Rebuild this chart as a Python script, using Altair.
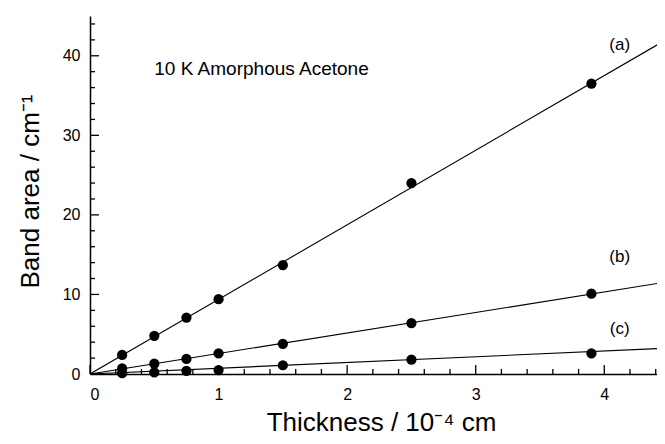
import altair as alt
import pandas as pd

# ---- data ----
thickness = [0.25, 0.5, 0.75, 1.0, 1.5, 2.5, 3.9]
band_a = [2.4, 4.8, 7.1, 9.4, 13.7, 24.0, 36.5]
band_b = [0.7, 1.3, 1.9, 2.6, 3.8, 6.4, 10.1]
band_c = [0.1, 0.2, 0.4, 0.5, 1.1, 1.8, 2.6]

fit_x = [0.0, 4.5]
fit_a = [0.0, 42.2]
fit_b = [0.0, 11.6]
fit_c = [0.0, 3.25]

series_names = ["(a)", "(b)", "(c)"]
label_x = [4.12, 4.12, 4.12]
label_y = [41.3, 14.7, 5.7]

note_text = ["10 K Amorphous Acetone"]
note_x = [0.5]
note_y = [37.6]

x_major = [0, 1, 2, 3, 4]
x_minor = [0.2, 0.4, 0.6, 0.8, 1.2, 1.4, 1.6, 1.8, 2.2, 2.4, 2.6, 2.8,
           3.2, 3.4, 3.6, 3.8, 4.2, 4.4]
y_major = [0, 10, 20, 30, 40]
y_minor = [2, 4, 6, 8, 12, 14, 16, 18, 22, 24, 26, 28, 32, 34, 36, 38, 42, 44]

# ---- tables ----
pts = pd.DataFrame({
    "x": thickness * 3,
    "y": band_a + band_b + band_c,
    "s": ["a"] * 7 + ["b"] * 7 + ["c"] * 7,
})
fits = pd.DataFrame({
    "x": fit_x * 3,
    "y": fit_a + fit_b + fit_c,
    "s": ["a"] * 2 + ["b"] * 2 + ["c"] * 2,
})
labels = pd.DataFrame({"t": series_names, "x": label_x, "y": label_y})
note = pd.DataFrame({"t": note_text, "x": note_x, "y": note_y})

W, H = 567, 358
FONT = "Liberation Sans"

xs = alt.Scale(domain=[0, 4.41], nice=False, zero=False)
ys = alt.Scale(domain=[0, 45], nice=False, zero=False)

x_axis = alt.Axis(
    values=x_major, format="d", ticks=False, grid=False,
    domainColor="black", domainWidth=1.5,
    labelFont=FONT, labelFontSize=16, labelColor="black", labelPadding=12,
    title="Thickness / 10⁻⁴ cm", titleFont=FONT, titleFontSize=26,
    titleFontWeight="normal", titleColor="black",
    titleX=291, titleY=56, titleBaseline="alphabetic", titleAlign="center",
)
y_axis = alt.Axis(
    values=y_major, format="d", ticks=False, grid=False,
    domainColor="black", domainWidth=1.5,
    labelFont=FONT, labelFontSize=16, labelColor="black", labelPadding=10,
    title="Band area / cm⁻¹", titleFont=FONT, titleFontSize=26,
    titleFontWeight="normal", titleColor="black",
    titleX=-52, titleY=175, titleAngle=270, titleBaseline="alphabetic",
    titleAlign="center",
)

base_pts = alt.Chart(pts).mark_circle(size=105, color="black", opacity=1).encode(
    x=alt.X("x:Q", scale=xs, axis=x_axis),
    y=alt.Y("y:Q", scale=ys, axis=y_axis),
)

lines = alt.Chart(fits).mark_line(color="black", strokeWidth=1.1, clip=True).encode(
    x=alt.X("x:Q", scale=xs),
    y=alt.Y("y:Q", scale=ys),
    detail="s:N",
)

lab = alt.Chart(labels).mark_text(
    font=FONT, fontSize=17, color="black", align="center", baseline="middle"
).encode(x=alt.X("x:Q", scale=xs), y=alt.Y("y:Q", scale=ys), text="t:N")

nt = alt.Chart(note).mark_text(
    font=FONT, fontSize=19, color="black", align="left", baseline="alphabetic"
).encode(x=alt.X("x:Q", scale=xs), y=alt.Y("y:Q", scale=ys), text="t:N")

# inward ticks
xmaj = alt.Chart(pd.DataFrame({"v": x_major})).mark_rule(color="black", strokeWidth=1.3).encode(
    x=alt.X("v:Q", scale=xs), y=alt.value(H), y2=alt.value(H - 9))
xmin = alt.Chart(pd.DataFrame({"v": x_minor})).mark_rule(color="black", strokeWidth=1.3).encode(
    x=alt.X("v:Q", scale=xs), y=alt.value(H), y2=alt.value(H - 5))
ymaj = alt.Chart(pd.DataFrame({"v": y_major})).mark_rule(color="black", strokeWidth=1.3).encode(
    y=alt.Y("v:Q", scale=ys), x=alt.value(0), x2=alt.value(9))
ymin = alt.Chart(pd.DataFrame({"v": y_minor})).mark_rule(color="black", strokeWidth=1.3).encode(
    y=alt.Y("v:Q", scale=ys), x=alt.value(0), x2=alt.value(5))

chart = alt.layer(lines, base_pts, xmaj, xmin, ymaj, ymin, lab, nt).properties(
    width=W, height=H,
    autosize=alt.AutoSizeParams(type="none"),
    padding={"left": 82, "top": 8, "right": 0, "bottom": 62},
    background="white",
).configure_view(stroke=None)

chart.save("out.html", embed_options={"renderer": "svg", "actions": False})
